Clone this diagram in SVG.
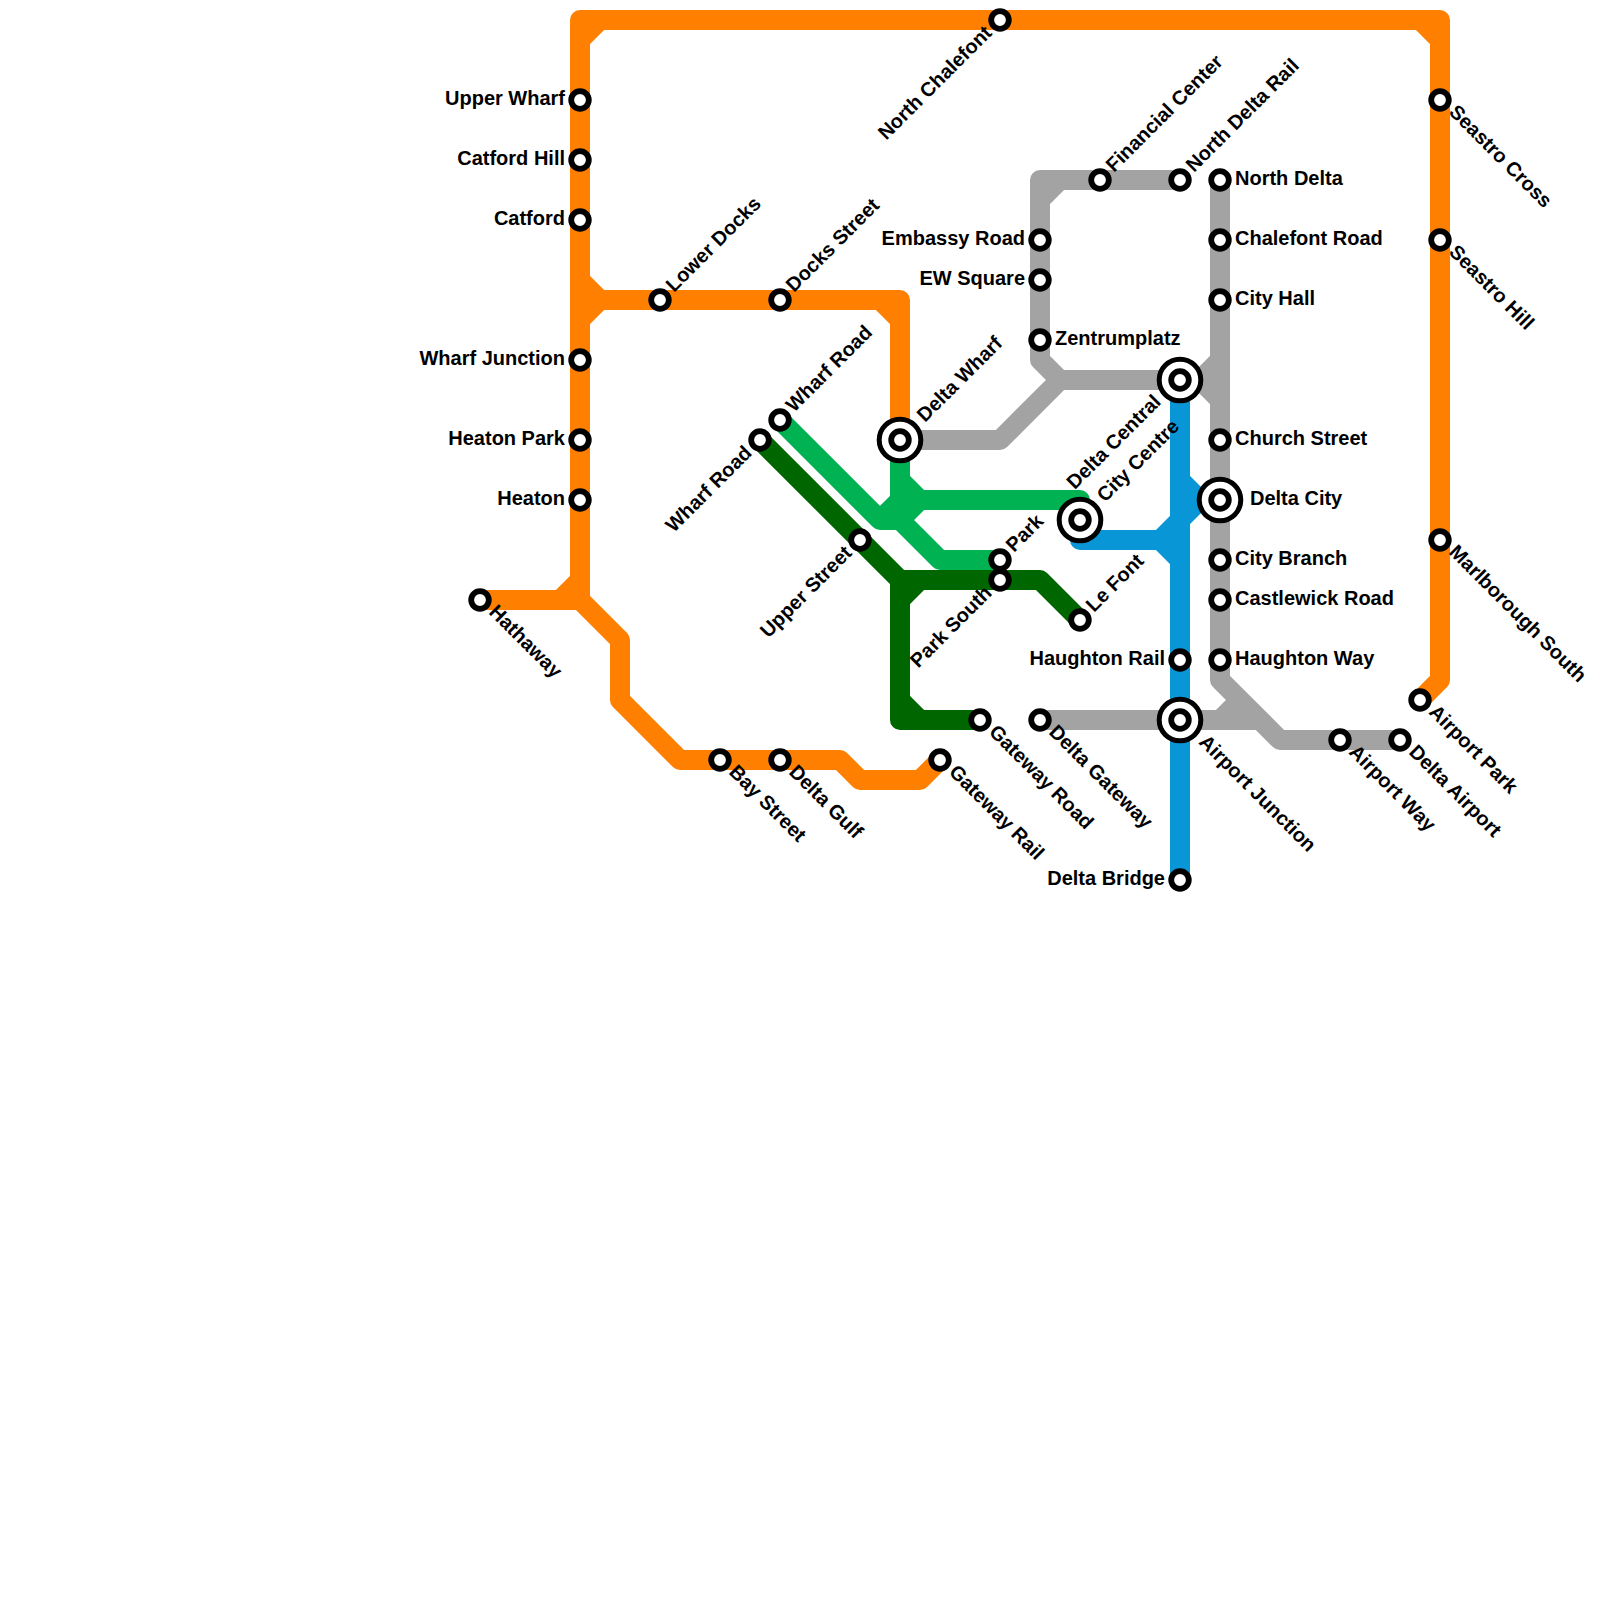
<svg xmlns="http://www.w3.org/2000/svg" width="1600" height="1600" viewBox="0 0 1600 1600">
<style>
text{font-family:"Liberation Sans",Arial,sans-serif;font-weight:700;font-size:20px;fill:#000}
.e{text-anchor:end}
.l{fill:none;stroke-width:20;stroke-linejoin:round;stroke-linecap:butt}
.o{stroke:#ff7f00}.g{stroke:#a3a3a3}.b{stroke:#0896d7}.n{stroke:#00b251}.d{stroke:#006700}
.s{fill:#fff;stroke:#000;stroke-width:5.8}
.r{fill:#fff;stroke:#000;stroke-width:5}
</style>
<rect width="1600" height="1600" fill="#fff"/>
<g id="connectors">
<path class="l o" d="M480 600H580V20H1440V680L1420 700M580 40L600 20M1420 20L1440 40M580 280L600 300M580 320L600 300M560 600L580 580M580 300H900V440M880 300L900 320M580 600L620 640V700L680 760H840L860 780H920L940 760"/>
<path class="l g" d="M900 440H1000L1060 380H1220M1180 180H1040V360L1060 380M1040 200L1060 180M1200 380L1220 360M1200 380L1220 400M1220 180V680L1280 740H1400M1040 720H1260M1220 720L1240 700"/>
<path class="l n" d="M780 420L880 520H900L940 560H1000M900 440V500H1080V520M900 480L920 500M900 520L920 500M880 520L900 500"/>
<path class="l d" d="M760 440L900 580H1040L1080 620M900 580V720H980M900 600L920 580M900 700L920 720"/>
<path class="l b" d="M1180 380V880M1080 520V540H1180M1160 540L1180 520M1160 540L1180 560M1180 500H1220M1180 480L1200 500M1180 520L1200 500"/>
</g>
<g id="stations">
<g id="upper-wharf"><circle class="s" cx="580" cy="100" r="8.8"/><text class="e" x="565" y="105">Upper Wharf</text></g>
<g id="catford-hill"><circle class="s" cx="580" cy="160" r="8.8"/><text class="e" x="565" y="165">Catford Hill</text></g>
<g id="catford"><circle class="s" cx="580" cy="220" r="8.8"/><text class="e" x="565" y="225">Catford</text></g>
<g id="wharf-junction"><circle class="s" cx="580" cy="360" r="8.8"/><text class="e" x="565" y="365">Wharf Junction</text></g>
<g id="heaton-park"><circle class="s" cx="580" cy="440" r="8.8"/><text class="e" x="565" y="445">Heaton Park</text></g>
<g id="heaton"><circle class="s" cx="580" cy="500" r="8.8"/><text class="e" x="565" y="505">Heaton</text></g>
<g id="hathaway"><circle class="s" cx="480" cy="600" r="8.8"/><text transform="rotate(45 488 613)" x="488" y="613">Hathaway</text></g>
<g id="north-chalefont"><circle class="s" cx="1000" cy="20" r="8.8"/><text class="e" transform="rotate(-45 993 34)" x="993" y="34">North Chalefont</text></g>
<g id="seastro-cross"><circle class="s" cx="1440" cy="100" r="8.8"/><text transform="rotate(45 1448 113)" x="1448" y="113">Seastro Cross</text></g>
<g id="seastro-hill"><circle class="s" cx="1440" cy="240" r="8.8"/><text transform="rotate(45 1448 253)" x="1448" y="253">Seastro Hill</text></g>
<g id="marlborough-south"><circle class="s" cx="1440" cy="540" r="8.8"/><text transform="rotate(45 1448 553)" x="1448" y="553">Marlborough South</text></g>
<g id="airport-park"><circle class="s" cx="1420" cy="700" r="8.8"/><text transform="rotate(45 1428 713)" x="1428" y="713">Airport Park</text></g>
<g id="lower-docks"><circle class="s" cx="660" cy="300" r="8.8"/><text transform="rotate(-45 674 293)" x="674" y="293">Lower Docks</text></g>
<g id="docks-street"><circle class="s" cx="780" cy="300" r="8.8"/><text transform="rotate(-45 794 293)" x="794" y="293">Docks Street</text></g>
<g id="wharf-road-2"><circle class="s" cx="780" cy="420" r="8.8"/><text transform="rotate(-45 794 413)" x="794" y="413">Wharf Road</text></g>
<g id="wharf-road"><circle class="s" cx="760" cy="440" r="8.8"/><text class="e" transform="rotate(-45 753 454)" x="753" y="454">Wharf Road</text></g>
<g id="upper-street"><circle class="s" cx="860" cy="540" r="8.8"/><text class="e" transform="rotate(-45 853 554)" x="853" y="554">Upper Street</text></g>
<g id="delta-wharf"><circle class="r" cx="900" cy="440" r="20.8"/><circle class="s" cx="900" cy="440" r="8.8"/><text transform="rotate(-45 925 423)" x="925" y="423">Delta Wharf</text></g>
<g id="park"><circle class="s" cx="1000" cy="560" r="8.8"/><text transform="rotate(-45 1014 553)" x="1014" y="553">Park</text></g>
<g id="park-south"><circle class="s" cx="1000" cy="580" r="8.8"/><text class="e" transform="rotate(-45 993 594)" x="993" y="594">Park South</text></g>
<g id="le-font"><circle class="s" cx="1080" cy="620" r="8.8"/><text transform="rotate(-45 1094 613)" x="1094" y="613">Le Font</text></g>
<g id="city-centre"><circle class="r" cx="1080" cy="520" r="20.8"/><circle class="s" cx="1080" cy="520" r="8.8"/><text transform="rotate(-45 1105 503)" x="1105" y="503">City Centre</text></g>
<g id="delta-central"><circle class="r" cx="1180" cy="380" r="20.8"/><circle class="s" cx="1180" cy="380" r="8.8"/><text class="e" transform="rotate(-45 1162 403)" x="1162" y="403">Delta Central</text></g>
<g id="financial-center"><circle class="s" cx="1100" cy="180" r="8.8"/><text transform="rotate(-45 1114 173)" x="1114" y="173">Financial Center</text></g>
<g id="north-delta-rail"><circle class="s" cx="1180" cy="180" r="8.8"/><text transform="rotate(-45 1194 173)" x="1194" y="173">North Delta Rail</text></g>
<g id="embassy-road"><circle class="s" cx="1040" cy="240" r="8.8"/><text class="e" x="1025" y="245">Embassy Road</text></g>
<g id="ew-square"><circle class="s" cx="1040" cy="280" r="8.8"/><text class="e" x="1025" y="285">EW Square</text></g>
<g id="zentrumplatz"><circle class="s" cx="1040" cy="340" r="8.8"/><text x="1055" y="345">Zentrumplatz</text></g>
<g id="north-delta"><circle class="s" cx="1220" cy="180" r="8.8"/><text x="1235" y="185">North Delta</text></g>
<g id="chalefont-road"><circle class="s" cx="1220" cy="240" r="8.8"/><text x="1235" y="245">Chalefont Road</text></g>
<g id="city-hall"><circle class="s" cx="1220" cy="300" r="8.8"/><text x="1235" y="305">City Hall</text></g>
<g id="church-street"><circle class="s" cx="1220" cy="440" r="8.8"/><text x="1235" y="445">Church Street</text></g>
<g id="delta-city"><circle class="r" cx="1220" cy="500" r="20.8"/><circle class="s" cx="1220" cy="500" r="8.8"/><text x="1250" y="505">Delta City</text></g>
<g id="city-branch"><circle class="s" cx="1220" cy="560" r="8.8"/><text x="1235" y="565">City Branch</text></g>
<g id="castlewick-road"><circle class="s" cx="1220" cy="600" r="8.8"/><text x="1235" y="605">Castlewick Road</text></g>
<g id="haughton-way"><circle class="s" cx="1220" cy="660" r="8.8"/><text x="1235" y="665">Haughton Way</text></g>
<g id="haughton-rail"><circle class="s" cx="1180" cy="660" r="8.8"/><text class="e" x="1165" y="665">Haughton Rail</text></g>
<g id="delta-bridge"><circle class="s" cx="1180" cy="880" r="8.8"/><text class="e" x="1165" y="885">Delta Bridge</text></g>
<g id="airport-junction"><circle class="r" cx="1180" cy="720" r="20.8"/><circle class="s" cx="1180" cy="720" r="8.8"/><text transform="rotate(45 1198 743)" x="1198" y="743">Airport Junction</text></g>
<g id="delta-gateway"><circle class="s" cx="1040" cy="720" r="8.8"/><text transform="rotate(45 1048 733)" x="1048" y="733">Delta Gateway</text></g>
<g id="airport-way"><circle class="s" cx="1340" cy="740" r="8.8"/><text transform="rotate(45 1348 753)" x="1348" y="753">Airport Way</text></g>
<g id="delta-airport"><circle class="s" cx="1400" cy="740" r="8.8"/><text transform="rotate(45 1408 753)" x="1408" y="753">Delta Airport</text></g>
<g id="gateway-road"><circle class="s" cx="980" cy="720" r="8.8"/><text transform="rotate(45 988 733)" x="988" y="733">Gateway Road</text></g>
<g id="gateway-rail"><circle class="s" cx="940" cy="760" r="8.8"/><text transform="rotate(45 948 773)" x="948" y="773">Gateway Rail</text></g>
<g id="bay-street"><circle class="s" cx="720" cy="760" r="8.8"/><text transform="rotate(45 728 773)" x="728" y="773">Bay Street</text></g>
<g id="delta-gulf"><circle class="s" cx="780" cy="760" r="8.8"/><text transform="rotate(45 788 773)" x="788" y="773">Delta Gulf</text></g>
</g>
</svg>
